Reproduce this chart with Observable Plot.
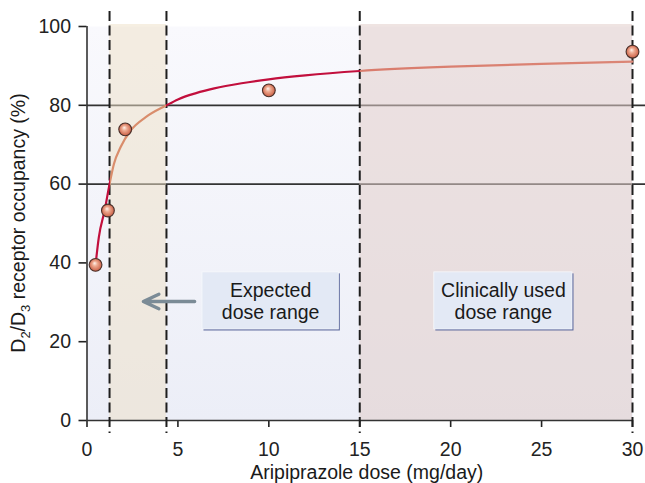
<!DOCTYPE html>
<html><head><meta charset="utf-8">
<script src="https://cdn.jsdelivr.net/npm/d3@7"></script>
<script src="https://cdn.jsdelivr.net/npm/@observablehq/plot@0.6"></script>
<style>body{margin:0;background:#fff} svg{display:block}</style>
</head><body><div id="chart"></div>
<script>
// ---- data ----
const xTicks = [0, 5, 10, 15, 20, 25, 30];
const yTicks = [0, 20, 40, 60, 80, 100];
const studyDose = [0.47, 1.15, 2.1, 10, 30];
const studyOccupancy = [39.5, 53.3, 73.9, 83.8, 93.6];
const curveDose = [0.47, 0.65, 0.97, 1.24, 1.48, 1.85, 2.4, 3.23, 4.37, 5, 6, 7, 8.5, 10, 12, 15, 20, 25, 30];
const curveOccupancy = [39.5, 46.5, 53.3, 60, 65.1, 69.4, 73.6, 77, 80, 81.5, 83.1, 84.3, 85.6, 86.6, 87.6, 88.7, 89.8, 90.5, 91.1];
const referenceLines = [60, 80];
const rangeStart = [1.24, 15];
const rangeEnd = [4.37, 30];
const rangeLabels = ["Expected\ndose range", "Clinically used\ndose range"];
const boxX1 = [6.35, 19.1];
const boxX2 = [13.85, 26.7];
const boxY1 = [23.1, 23.1];
const boxY2 = [37.6, 37.6];
const arrowX1 = [5.92], arrowX2 = [3.1], arrowY = [30.2];
const xLabel = "Aripiprazole dose (mg/day)";

// ---- tables ----
const points = studyDose.map((x, i) => ({x, y: studyOccupancy[i]}));
const curve = curveDose.map((x, i) => ({x, y: curveOccupancy[i]}));
const boxes = rangeLabels.map((t, i) => ({t, x1: boxX1[i], x2: boxX2[i], y1: boxY1[i], y2: boxY2[i],
  cx: (boxX1[i] + boxX2[i]) / 2, cy: (boxY1[i] + boxY2[i]) / 2}));
const arrows = arrowX1.map((x, i) => ({x1: x, x2: arrowX2[i], y: arrowY[i]}));
const bandExpected = [{x1: rangeStart[0], x2: rangeEnd[0]}];
const bandClinical = [{x1: rangeStart[1], x2: rangeEnd[1]}];
const dashed = [...rangeStart, ...rangeEnd];

const FONT = "'Liberation Sans', Arial, Helvetica, sans-serif";
const chart = Plot.plot({
  width: 645, height: 483,
  marginLeft: 86.5, marginRight: 13, marginTop: 26, marginBottom: 63,
  style: {fontFamily: FONT, fontSize: "19.5px", color: "#222", background: "#fff", overflow: "visible"},
  x: {domain: [0, 30], ticks: xTicks, tickSize: 7, tickPadding: 15, label: null, line: false},
  y: {domain: [0, 100], ticks: yTicks, tickSize: 8, tickPadding: 8, label: null, line: false},
  marks: [
    Plot.frame({fill: "url(#bgGrad)", stroke: "none"}),
    Plot.ruleY(referenceLines, {stroke: "#333", strokeWidth: 1.7, insetRight: -13}),
    Plot.rect(bandExpected, {x1: "x1", x2: "x2", fill: "#ede0c8", fillOpacity: 0.52, insetTop: -2}),
    Plot.rect(bandClinical, {x1: "x1", x2: "x2", fill: "#e2cdca", fillOpacity: 0.55, insetTop: -2}),
    Plot.ruleX([0], {stroke: "#333", strokeWidth: 1.6}),
    Plot.ruleY([0], {stroke: "#333", strokeWidth: 1.6}),
    Plot.ruleX(dashed, {stroke: "#1e1e1e", strokeWidth: 2, strokeDasharray: "10,4.5", insetTop: -15, insetBottom: -13}),
    Plot.rect(boxes, {x1: "x1", x2: "x2", y1: "y1", y2: "y2", fill: "#5f6c9f", dx: 1.5, dy: 1.5}),
    Plot.rect(boxes, {x1: "x1", x2: "x2", y1: "y1", y2: "y2", fill: "#e3e9f5", stroke: "#f6f8fc", strokeWidth: 0.8}),
    Plot.text(boxes, {x: "cx", y: "cy", text: "t", lineAnchor: "middle", lineHeight: 1.16, fontSize: 19.5, fill: "#1a1a1a"}),
    Plot.arrow(arrows, {x1: "x1", x2: "x2", y1: "y", y2: "y", stroke: "#7b8b96", strokeWidth: 3.4, headLength: 13, headAngle: 50}),
    Plot.line(curve, {x: "x", y: "y", curve: "monotone-x", stroke: "url(#curveGrad)", strokeWidth: 2.2}),
    Plot.dot(points, {x: "x", y: "y", r: 6.4, fill: "url(#ballGrad)", stroke: "#4a302a", strokeWidth: 1.1}),
    Plot.text([xLabel], {text: d => d, frameAnchor: "bottom", dy: 52, dx: 7, lineAnchor: "middle", fontSize: 19.5, fill: "#1a1a1a"})
  ]
});
document.getElementById("chart").appendChild(chart);

// ---- gradients and rotated y label with subscripts ----
const svg = d3.select(chart);
const defs = svg.insert("defs", ":first-child");
const bg = defs.append("linearGradient").attr("id", "bgGrad").attr("x1", 0).attr("y1", 0).attr("x2", 0).attr("y2", 1);
bg.append("stop").attr("offset", 0).attr("stop-color", "#f9f9fd");
bg.append("stop").attr("offset", 1).attr("stop-color", "#eceef7");

const ball = defs.append("radialGradient").attr("id", "ballGrad")
  .attr("cx", 0.5).attr("cy", 0.5).attr("r", 0.55).attr("fx", 0.42).attr("fy", 0.36);
ball.append("stop").attr("offset", 0).attr("stop-color", "#fff3ec");
ball.append("stop").attr("offset", 0.35).attr("stop-color", "#eeab92");
ball.append("stop").attr("offset", 0.8).attr("stop-color", "#d26f55");
ball.append("stop").attr("offset", 1).attr("stop-color", "#a9503c");

const sx = chart.scale("x");
const [d0, d1] = sx.domain;
const off = v => (v - d0) / (d1 - d0);
const RED = "#c20f3d", ORANGE = "#d98d6c", SALMON = "#d97c6d", SALMON2 = "#db8676";
const cg = defs.append("linearGradient").attr("id", "curveGrad").attr("gradientUnits", "userSpaceOnUse")
  .attr("x1", sx.apply(d0)).attr("x2", sx.apply(d1)).attr("y1", 0).attr("y2", 0);
[[off(rangeStart[0]), RED], [off(rangeStart[0]), ORANGE], [off(rangeEnd[0]), ORANGE], [off(rangeEnd[0]), RED],
 [off(rangeStart[1]), RED], [off(rangeStart[1]), SALMON], [off(rangeEnd[1]), SALMON2]]
  .forEach(([o, c]) => cg.append("stop").attr("offset", o).attr("stop-color", c));

// thicker tick marks
svg.selectAll("g[aria-label*='axis'] line, g[aria-label*='axis'] path").attr("stroke-width", 1.6);

const yr = chart.scale("y").range;
const lab = svg.append("text")
  .attr("transform", `translate(18,${(yr[0] + yr[1]) / 2}) rotate(-90)`)
  .attr("text-anchor", "middle").attr("fill", "#1a1a1a")
  .style("font-family", FONT).style("font-size", "19.5px");
lab.append("tspan").attr("dy", "0.35em").text("D");
lab.append("tspan").attr("dy", 5).style("font-size", "13px").text("2");
lab.append("tspan").attr("dy", -5).text("/D");
lab.append("tspan").attr("dy", 5).style("font-size", "13px").text("3");
lab.append("tspan").attr("dy", -5).text(" receptor occupancy (%)");
</script>
</body></html>
